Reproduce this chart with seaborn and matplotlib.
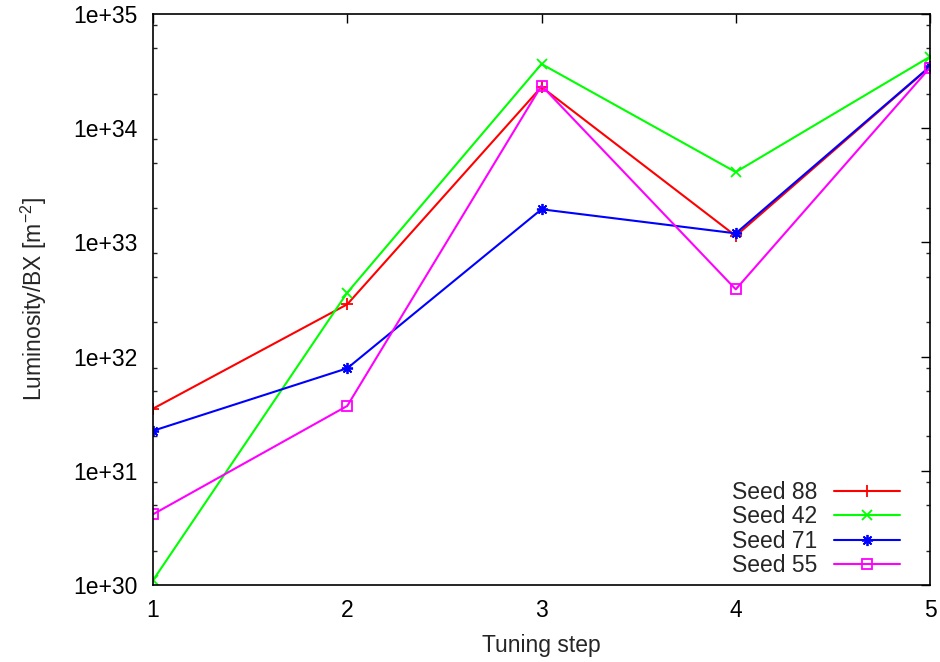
import numpy as np
import pandas as pd
import matplotlib
matplotlib.use("Agg")
import matplotlib.pyplot as plt
from matplotlib.ticker import LogLocator, FuncFormatter, NullFormatter, FixedLocator
import seaborn as sns

# Luminosity per bunch crossing after each tuning step, for four random seeds
steps = [1, 2, 3, 4, 5]
seed_88 = [3.5e31, 2.87e32, 2.3e34, 1.14e33, 3.45e34]
seed_42 = [1.1e30, 3.63e32, 3.65e34, 4.13e33, 4.23e34]
seed_71 = [2.24e31, 7.9e31, 1.95e33, 1.2e33, 3.47e34]
seed_55 = [4.16e30, 3.7e31, 2.36e34, 3.88e32, 3.39e34]
series_names = ["Seed 88", "Seed 42", "Seed 71", "Seed 55"]
y_ticks = [1e30, 1e31, 1e32, 1e33, 1e34, 1e35]

FS = 16.5

sns.set_style("white")
plt.rcParams["font.family"] = ["Liberation Sans", "DejaVu Sans"]
plt.rcParams["mathtext.fontset"] = "custom"
plt.rcParams["mathtext.rm"] = "Liberation Sans"
plt.rcParams["mathtext.it"] = "Liberation Sans:italic"
plt.rcParams["mathtext.default"] = "regular"

df = pd.DataFrame({
    "step": steps * 4,
    "lumi": seed_88 + seed_42 + seed_71 + seed_55,
    "seed": [n for n in series_names for _ in steps],
})

styles = {
    "Seed 88": dict(color="#ff0000", marker="+", ms=8),
    "Seed 42": dict(color="#00ff00", marker="x", ms=7),
    "Seed 71": dict(color="#0000ff", marker=(8, 2, 0), ms=8),
    "Seed 55": dict(color="#ff00ff", marker="s", ms=7),
}

fig = plt.figure(figsize=(9.4, 6.62), dpi=100)
ax = fig.add_axes([153 / 940, 1 - 585 / 662, (930 - 153) / 940, (585 - 14) / 662])

for name in series_names:
    st = styles[name]
    sns.lineplot(
        data=df[df["seed"] == name], x="step", y="lumi", ax=ax,
        color=st["color"], marker=st["marker"], markersize=st["ms"],
        markerfacecolor="none", markeredgecolor=st["color"],
        markeredgewidth=1.3, linewidth=1.5, label=name,
    )

ax.set_yscale("log")
ax.set_xlim(1, 5)
ax.set_ylim(1e30, 1e35)
ax.xaxis.set_major_locator(FixedLocator(steps))
ax.yaxis.set_major_locator(FixedLocator(y_ticks))
ax.yaxis.set_minor_locator(LogLocator(base=10, subs=(2.0, 5.0, 8.0), numticks=20))
ax.yaxis.set_minor_formatter(NullFormatter())
ax.yaxis.set_major_formatter(FuncFormatter(lambda v, p: f"1e+{int(round(np.log10(v)))}"))

ax.tick_params(axis="both", which="major", direction="in", length=6.5, width=1.0,
               labelsize=FS, colors="black", top=True, right=True)
ax.tick_params(axis="y", which="major", pad=11)
ax.tick_params(axis="x", which="major", pad=10)
ax.tick_params(axis="y", which="minor", direction="in", length=3.2, width=1.0,
               left=True, right=True)
for sp in ax.spines.values():
    sp.set_visible(True)
    sp.set_linewidth(1.2)
    sp.set_color("black")

ax.set_xlabel("Tuning step", fontsize=FS)
ax.set_ylabel("Luminosity/BX [m$^{-2}$]", fontsize=FS)
ax.xaxis.set_label_coords(0.5, (585 - 634) / 571)
ax.yaxis.set_label_coords((49 - 153) / 777, 0.5)

ax.legend(loc="lower right", bbox_to_anchor=((900 - 153) / 777, (585 - 577) / 571),
          frameon=False, markerfirst=False, fontsize=FS, handlelength=2.9,
          handletextpad=0.7, labelspacing=0.06, borderpad=0, borderaxespad=0)

fig.savefig("out.png", dpi=100, facecolor="white")
